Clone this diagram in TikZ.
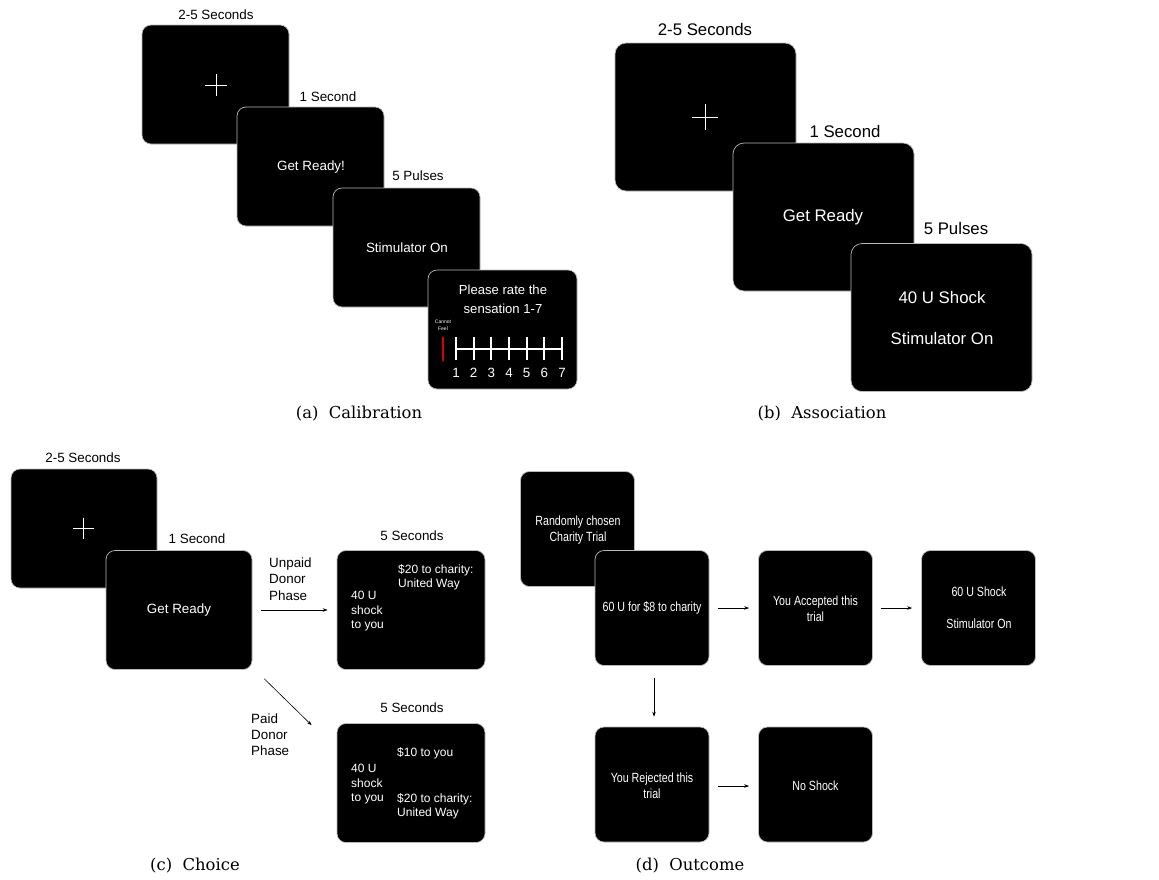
\documentclass[tikz,border=0pt]{standalone}
\usepackage{fontspec}
\newfontfamily\arial{Liberation Sans}
\newfontfamily\arialn[FakeStretch=0.8]{Liberation Sans}
\newfontfamily\capserif{DejaVu Serif}
\usetikzlibrary{arrows.meta}
\tikzset{
  scr/.style={fill=black, draw=gray!55, line width=0.7pt, rounded corners=9pt, inner sep=0pt},
  sa/.style={scr, minimum width=147pt, minimum height=119pt},
  sb/.style={scr, minimum width=181pt, minimum height=148pt, rounded corners=11pt},
  sd/.style={scr, minimum width=114pt, minimum height=115pt},
  wt/.style={text=white, inner sep=0pt, font=\arial\fontsize{13.4pt}{15pt}\selectfont},
  wtb/.style={text=white, inner sep=0pt, font=\arial\fontsize{16.8pt}{19pt}\selectfont},
  wtc/.style={text=white, inner sep=0pt, align=left, font=\arial\fontsize{12pt}{14.5pt}\selectfont},
  wtd/.style={text=white, inner sep=0pt, align=center, font=\arialn\fontsize{13.3pt}{16pt}\selectfont},
  lab/.style={text=black, inner sep=0pt, font=\arial\fontsize{13.4pt}{15pt}\selectfont},
  labb/.style={text=black, inner sep=0pt, font=\arial\fontsize{16.8pt}{19pt}\selectfont},
  lblk/.style={text=black, inner sep=0pt, align=left, anchor=west, font=\arial\fontsize{13.4pt}{16.2pt}\selectfont},
  captxt/.style={text=black, inner sep=0pt, font=\capserif\fontsize{16.4pt}{20pt}\selectfont},
  cross/.style={draw=white, line width=0.8pt},
  arr/.style={draw=black, line width=0.6pt, -{Stealth[length=5pt,width=3.5pt]}}
}
\begin{document}
\begin{tikzpicture}[x=1pt,y=-1pt]
\useasboundingbox (0,0) rectangle (1159,879);
\fill[white] (0,0) rectangle (1159,879);

% ---------------- (a) Calibration ----------------
\node[lab] (la1) at (216,15) {2-5 Seconds};
\node[sa] (A1) at (215.5,84.5) {};
\draw[cross] (205,85) -- (227,85) (216,74) -- (216,96);
\node[lab] (la2) at (328,97) {1 Second};
\node[sa] (A2) at (310.5,166.5) {};
\node[wt] (ta2) at (311,167) {Get Ready!};
\node[lab] (la3) at (418,176) {5 Pulses};
\node[sa] (A3) at (406.5,247.5) {};
\node[wt] (ta3) at (407,248) {Stimulator On};
\node[sa, minimum width=149pt] (A4) at (502.5,329.5) {};
\node[wt, align=center, font=\arial\fontsize{13.1pt}{19pt}\selectfont] (ta4) at (503,299.5) {Please rate the\\sensation 1-7};
\node[text=white, inner sep=0pt, align=center, font=\arial\fontsize{5pt}{7pt}\selectfont] (cf) at (443,325.5) {Cannot\\Feel};
\draw[red!85!black, line width=2.6pt] (443,337) -- (443,361);
\draw[white, line width=1.8pt] (456,349) -- (562,349);
\foreach \k in {0,...,6} {
  \draw[white, line width=1.8pt] ({456+\k*17.67},337) -- ({456+\k*17.67},360);
  \pgfmathtruncatemacro{\nn}{\k+1}
  \node[wt] (n\nn) at ({456+\k*17.67},373) {\nn};
}
\node[captxt] (capa) at (359,414) {(a)\ \ Calibration};

% ---------------- (b) Association ----------------
\node[labb] (lb1) at (705,29) {2-5 Seconds};
\node[sb] (B1) at (705.5,117) {};
\draw[cross] (692,117) -- (718,117) (705,104) -- (705,130);
\node[labb] (lb2) at (845,131) {1 Second};
\node[sb] (B2) at (823.5,217) {};
\node[wtb] (tb2) at (823,217) {Get Ready};
\node[labb] (lb3) at (956,228) {5 Pulses};
\node[sb] (B3) at (941.5,317.5) {};
\node[wtb] (tb3a) at (942,297) {40 U Shock};
\node[wtb] (tb3b) at (942,338) {Stimulator On};
\node[captxt] (capb) at (822,414) {(b)\ \ Association};

% ---------------- (c) Choice ----------------
\node[lab] (lc1) at (83,458) {2-5 Seconds};
\node[sa, minimum width=146pt] (C1) at (84,528.5) {};
\draw[cross] (73,528) -- (94,528) (83.5,517.5) -- (83.5,538.5);
\node[lab] (lc2) at (197,539) {1 Second};
\node[sa, minimum width=146pt] (C2) at (179,610) {};
\node[wt] (tc2) at (179,610) {Get Ready};
\node[lab] (lc3) at (412,536) {5 Seconds};
\node[sa, minimum width=148pt] (C3) at (411,610) {};
\node[wtc, anchor=north west] (tc3a) at (398,564) {\$20 to charity:\\United Way};
\node[wtc, anchor=north west] (tc3b) at (351,591) {40 U\\shock\\to you};
\node[lab] (lc4) at (412,708) {5 Seconds};
\node[sa, minimum width=148pt] (C4) at (411,783) {};
\node[wtc, anchor=west] (tc4a) at (397,753) {\$10 to you};
\node[wtc, anchor=north west] (tc4b) at (351,764) {40 U\\shock\\to you};
\node[wtc, anchor=north west] (tc4c) at (397,793) {\$20 to charity:\\United Way};
\node[lblk] (up) at (269,579) {Unpaid\\Donor\\Phase};
\node[lblk] (pd) at (251,734.5) {Paid\\Donor\\Phase};
\draw[arr, shorten <=9pt, shorten >=9pt] (C2) -- (C3);
\draw[arr] ([shift={(12,9)}]C2.south east) -- ([shift={(-25,2)}]C4.north west);
\node[captxt] (capc) at (195,866) {(c)\ \ Choice};

% ---------------- (d) Outcome ----------------
\node[sd] (D1) at (577.5,529) {};
\node[wtd] (td1) at (578,530) {Randomly chosen\\Charity Trial};
\node[sd] (D2) at (652,608) {};
\node[wtd] (td2) at (652,608) {60 U for \$8 to charity};
\node[sd] (D3) at (815.5,608) {};
\node[wtd] (td3) at (815.5,608.5) {You Accepted this\\trial};
\node[sd] (D4) at (978.5,608) {};
\node[wtd] (td4a) at (979,592) {60 U Shock};
\node[wtd] (td4b) at (979,624) {Stimulator On};
\node[sd] (D5) at (652,784.5) {};
\node[wtd] (td5) at (652,785.5) {You Rejected this\\trial};
\node[sd] (D6) at (815.5,784.5) {};
\node[wtd] (td6) at (815.5,786) {No Shock};
\draw[arr, shorten <=9pt, shorten >=9pt] (D2) -- (D3);
\draw[arr, shorten <=8pt, shorten >=9pt] (D3) -- (D4);
\draw[arr, shorten <=12pt, shorten >=10pt] ([xshift=2pt]D2.south) -- ([xshift=2pt]D5.north);
\draw[arr, shorten <=9pt, shorten >=9pt] ([yshift=-1.5pt]D5.east) -- ([yshift=-1.5pt]D6.west);
\node[captxt] (capd) at (690,866) {(d)\ \ Outcome};
\end{tikzpicture}
\end{document}
